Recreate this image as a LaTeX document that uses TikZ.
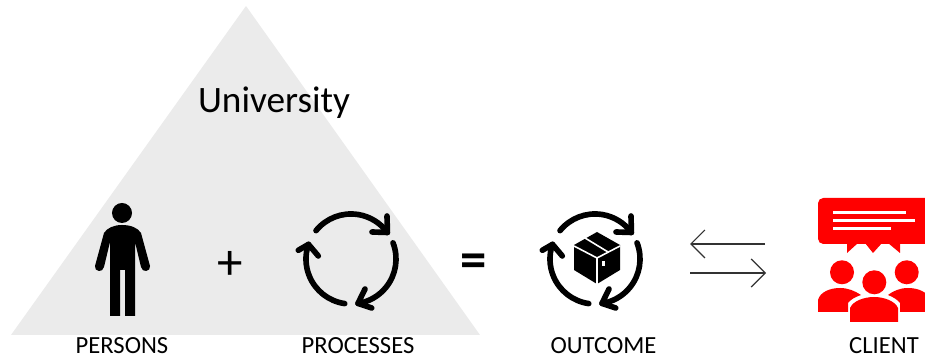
\documentclass[tikz,border=0pt]{standalone}
\usepackage{fontspec}
\setmainfont{Carlito}
\usetikzlibrary{arrows.meta}
\definecolor{pyramidgray}{HTML}{EBEBEB}
\definecolor{clientred}{HTML}{FF0000}
\tikzset{
  caption/.style={font=\fontsize{7}{8}\selectfont,text=black,inner sep=0pt},
  iconline/.style={line width=1.6pt,line cap=round,line join=round},
  flowarrow/.style={line width=0.35pt,color=black!80,-{Straight Barb[length=0.14cm,width=0.28cm,line width=0.35pt]}},
  cyclearrows/.pic={
    \draw[iconline] (141:0.45cm) arc [start angle=141,end angle=36,radius=0.45cm];
    \draw[iconline] (21,-27) -- (36.4,-26.5) -- (36,-43);
    \draw[iconline] (21:0.45cm) arc [start angle=21,end angle=-81,radius=0.45cm];
    \draw[iconline] (14,30) -- (7,44.4) -- (20.7,49);
    \draw[iconline] (-98:0.45cm) arc [start angle=-98,end angle=-199,radius=0.45cm];
    \draw[iconline] (-52.7,-8.7) -- (-42.5,-14.6) -- (-32.7,-3);
  }
}
\begin{document}
\begin{tikzpicture}[x=0.01cm,y=-0.01cm]
    \useasboundingbox (0,0) rectangle (925,356);

    % Pyramid
    \fill[pyramidgray] (246,6) -- (480,335) -- (11,335) -- cycle;
    \node[font=\fontsize{10.6}{12}\selectfont,inner sep=0pt] (university) at (274,103) {University};

    % Person
    \fill (122,213) circle [radius=0.1cm];
    \fill (122,225) .. controls (114,225) and (107,228) .. (104,233)
      -- (95,266) .. controls (94,272) and (103,273) .. (104,267) -- (110,242)
      -- (110,316) -- (120,316) -- (120,270) -- (125,270) -- (125,316) -- (135,316) -- (135,242)
      -- (141,267) .. controls (142,273) and (151,272) .. (150,266) -- (141,233)
      .. controls (138,228) and (131,225) .. (122,225) -- cycle;

    % Operators
    \node[font=\fontsize{14.5}{15}\selectfont,inner sep=0pt] (plus) at (230,265) {+};
    \node[font=\fontsize{15}{16}\selectfont\bfseries,inner sep=0pt] (equals) at (474,266) {=};

    % Cycle icons
    \pic at (351,259) {cyclearrows};
    \pic at (595,259) {cyclearrows};

    % Box
    \fill (597,232) -- (620,245) -- (620,270) -- (597,284) -- (574,270) -- (574,245) -- cycle;
    \draw[white,line width=0.45pt] (574,246) -- (597,258) -- (620,246) (597,258) -- (597,284);
    \draw[white,line width=0.45pt] (585,238) -- (608,252);
    \fill[white] (602,261) rectangle (605,266);

    % Arrows
    \coordinate (backstart) at (765,244);
    \coordinate (backend) at (690,244);
    \coordinate (forthstart) at (690,273);
    \coordinate (forthend) at (766,273);
    \draw[flowarrow] (backstart) -- (backend);
    \draw[flowarrow] (forthstart) -- (forthend);

    % Client
    \fill[clientred,rounded corners=1.5pt] (818,198) rectangle (930,244);
    \fill[clientred] (847,243) -- (847,253) -- (858,243) -- cycle;
    \fill[clientred] (865,243) -- (873,253) -- (882,243) -- cycle;
    \fill[clientred] (888,243) -- (900,253) -- (900,243) -- cycle;
    \draw[white,line width=0.75pt] (833,212.7) -- (906,212.7);
    \draw[white,line width=0.75pt] (833,220.7) -- (915,220.7);
    \draw[white,line width=0.75pt] (833,228.3) -- (890.7,228.3);
    \foreach \xpos/\ypos in {842/272.3, 874.3/282.3, 906.7/272.3}
    {
      \fill[clientred] (\xpos,\ypos) circle [radius=0.12cm];
    };
    \fill[clientred] (818,312) -- (818,300) .. controls (820,292) and (830,288) .. (840,288)
      .. controls (848,288) and (855,291) .. (861,295) .. controls (855,297) and (850,300) .. (848,303) -- (848,312) -- cycle;
    \fill[clientred] (930,312) -- (930,300) .. controls (928,292) and (918,288) .. (908,288)
      .. controls (900,288) and (893,291) .. (888,295) .. controls (893,297) and (898,300) .. (900,303) -- (900,312) -- cycle;
    \fill[clientred] (850,322) -- (850,308) .. controls (853,301) and (864,297) .. (874,297)
      .. controls (884,297) and (895,301) .. (898,308) -- (898,322) -- cycle;

    % Captions
    \node[caption] (persons) at (122,346) {PERSONS};
    \node[caption] (processes) at (358,346) {PROCESSES};
    \node[caption] (outcome) at (603.5,346) {OUTCOME};
    \node[caption] (client) at (884,346) {CLIENT};

\end{tikzpicture}
\end{document}
